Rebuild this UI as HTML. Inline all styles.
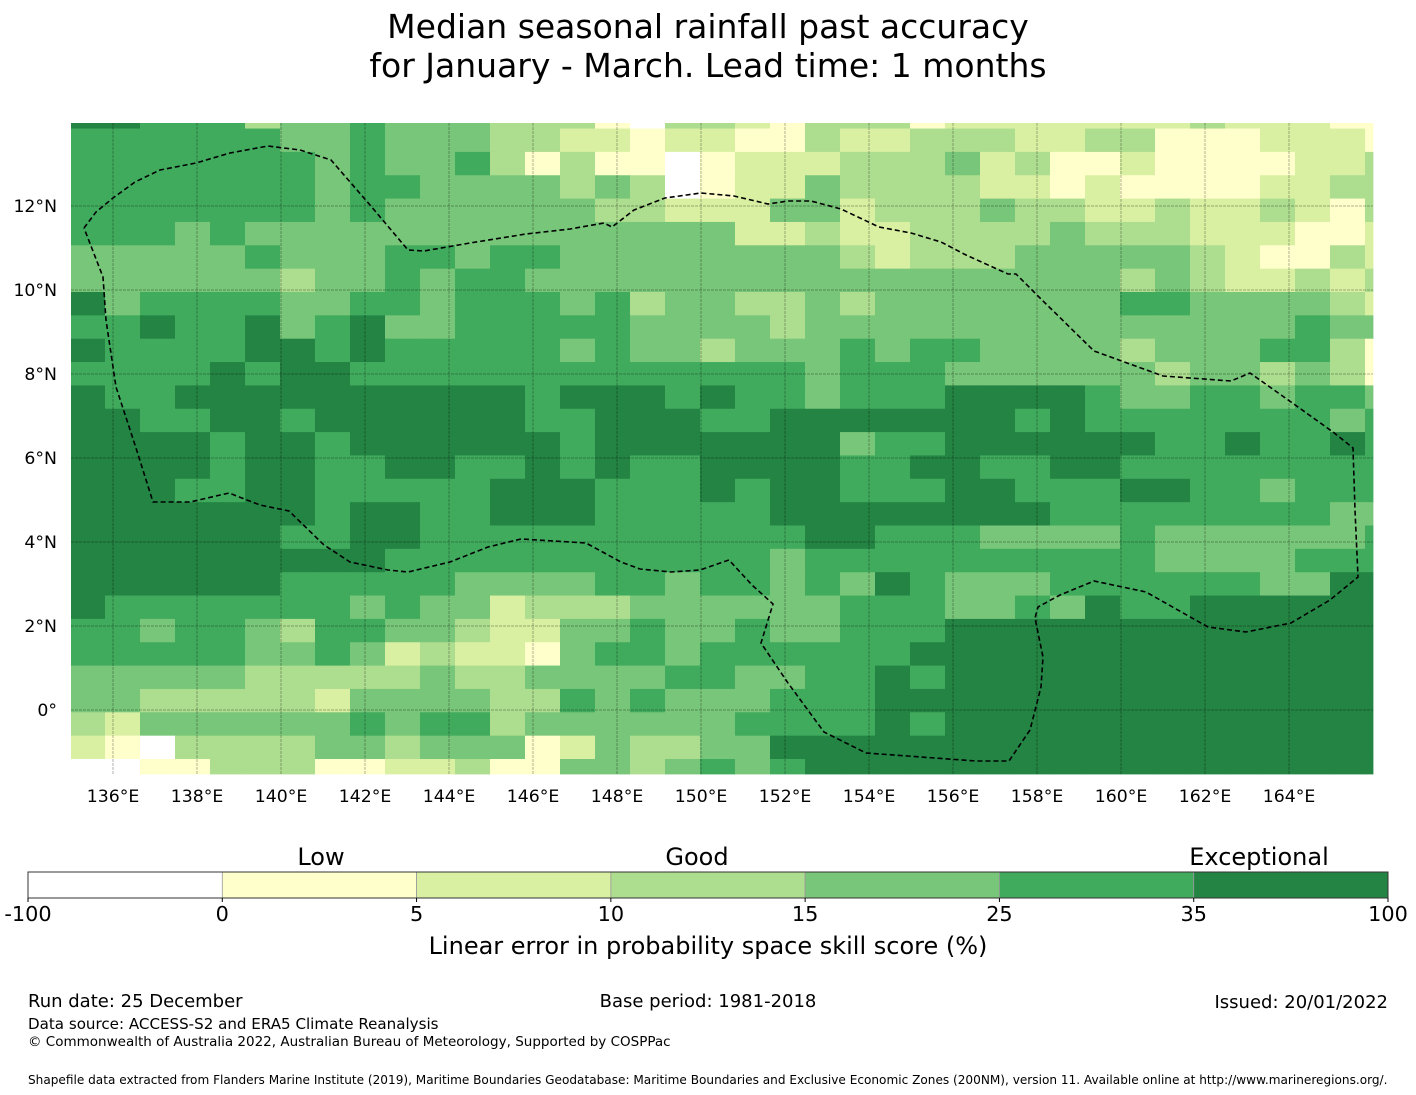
<!DOCTYPE html>
<html><head><meta charset="utf-8">
<style>
html,body{margin:0;padding:0;background:#fff;}
svg{display:block;font-family:"DejaVu Sans","Liberation Sans",sans-serif;}
</style></head>
<body>
<svg id="chart" width="1416" height="1095" viewBox="0 0 1416 1095" xmlns="http://www.w3.org/2000/svg">
  <text x="708" y="38" text-anchor="middle" font-size="33" fill="#000">Median seasonal rainfall past accuracy</text>
  <text x="708" y="77" text-anchor="middle" font-size="33" fill="#000">for January - March. Lead time: 1 months</text>
  <g id="map"></g>
  <g id="cbar"></g>
  <text x="28" y="1007" font-size="18">Run date: 25 December</text>
  <text x="708" y="1007" font-size="18" text-anchor="middle">Base period: 1981-2018</text>
  <text x="1388" y="1008" font-size="18" text-anchor="end">Issued: 20/01/2022</text>
  <text x="28" y="1029" font-size="15.1">Data source: ACCESS-S2 and ERA5 Climate Reanalysis</text>
  <text x="28" y="1046" font-size="13.5">© Commonwealth of Australia 2022, Australian Bureau of Meteorology, Supported by COSPPac</text>
  <text x="28" y="1084" font-size="12.1">Shapefile data extracted from Flanders Marine Institute (2019), Maritime Boundaries Geodatabase: Maritime Boundaries and Exclusive Economic Zones (200NM), version 11. Available online at http://www.marineregions.org/.</text>
</svg>
<script>
// ---- data ----
const levelColors = ["#ffffff","#ffffcc","#d9f0a3","#addd8e","#78c679","#41ab5d","#238443"];
const cbarTicks = ["-100","0","5","10","15","25","35","100"];
const cbarCategories = ["Low","Good","Exceptional"];
const lonTicks = [136,138,140,142,144,146,148,150,152,154,156,158,160,162,164];
const latTicks = [12,10,8,6,4,2,0];
// skill levels per grid row (top to bottom), one digit per grid column (0=<0,1=0-5,2=5-10,3=10-15,4=15-25,5=25-35,6=35-100)
const gridRows = [
"66555344544433310332133312222222322211",
"55555544544433221221132233322331112221",
"55555554544531311012223334231121111223",
"55555554554444343012243333221211112233",
"55555554544444433222442333433223223213",
"55545444444444444442232233334333222112",
"44444544455455444444443233344444321132",
"44444434454554444444444444444434322323",
"64555544554555453443343444444455444432",
"55655645644555554444344444444444444544",
"65555665655555454434445455444434445531",
"55556566555555555555545554444443443431",
"65566666666665666565545556666544554554",
"66556656666665566655666666656555555545",
"66665665666666566666664556666665565565",
"66665665566556565566665566556655555555",
"66655665555566655565665556655566554555",
"66666665665566655555666666665555555544",
"66666655665555555555566555444454444445",
"66666666655555555555455555555554444555",
"66666655555444455455454654445555554466",
"65555555454423334444445554454655666666",
"55455435544322445445445556666666666666",
"55555445423221455455555566666666666666",
"44444333334334444554455656666666666666",
"44333332444433545444555666666666666666",
"32444444545534444445555656666666666666",
"21033334434441243344666666666666666666",
"00113331122311443454566666666666666666"
];
// EEZ boundary trace (pixel space of the map)
const eezTrace = [[84,228],[96,212],[113,198],[135,182],[160,170],[196,163],[230,153],[268,146],[300,150],[331,160],[370,205],[408,250],[424,251],[470,243],[526,234],[570,229],[604,223],[612,227],[634,210],[665,198],[701,193],[734,196],[768,204],[788,201],[811,201],[841,209],[879,227],[911,233],[941,242],[966,255],[1008,274],[1016,274],[1040,298],[1094,351],[1163,376],[1231,381],[1250,373],[1291,402],[1333,432],[1353,448],[1355,510],[1358,577],[1330,600],[1291,623],[1246,632],[1208,627],[1146,592],[1094,581],[1060,595],[1038,607],[1035,618],[1043,657],[1041,687],[1030,730],[1009,761],[976,761],[866,753],[824,732],[788,683],[761,643],[773,604],[752,585],[729,560],[700,570],[671,572],[640,569],[621,562],[586,543],[554,541],[521,539],[488,547],[450,562],[408,572],[388,570],[350,562],[324,545],[289,511],[260,505],[229,493],[190,502],[153,502],[136,448],[116,387],[106,320],[103,277],[84,228]];

// ---- axes ----
const MAP = {x0:71, x1:1373, y0:123, y1:774};
const colX = c => 70 + 35*c;
const rowY = r => 105.2 + 23.35*r;
const lonX = lon => 113 + (lon-136)*42;
const latY = lat => 710 - lat*42;
const NS = "http://www.w3.org/2000/svg";
function mk(tag, attrs, parent){ const e=document.createElementNS(NS,tag); for(const k in attrs) e.setAttribute(k,attrs[k]); parent.appendChild(e); return e; }

const map = document.getElementById('map');
const cells = mk('g',{},map);


gridRows.forEach((row,r)=>{
  for(let c=0;c<row.length;c++){
    const x0=Math.max(MAP.x0,colX(c)), x1=Math.min(MAP.x1,colX(c+1));
    const y0=Math.max(MAP.y0,rowY(r)), y1=Math.min(MAP.y1,rowY(r+1));
    if(x1<=x0||y1<=y0) continue;
    const rect = mk('rect',{x:x0,y:y0,width:x1-x0+0.4,height:y1-y0+0.4,fill:levelColors[+row[c]]},cells);
    
    
  }
});
// gridlines
const grid = mk('g',{stroke:'rgba(0,0,0,0.3)','stroke-width':1,'stroke-dasharray':'3,1'},map);


lonTicks.forEach(l=>{ const ln=mk('line',{x1:lonX(l),x2:lonX(l),y1:MAP.y0,y2:MAP.y1},grid);
  
   });
latTicks.forEach(l=>{ const ln=mk('line',{x1:MAP.x0,x2:MAP.x1,y1:latY(l),y2:latY(l)},grid);
  
   });
// EEZ
const eez = mk('polyline',{points:eezTrace.map(p=>p.join(',')).join(' '),fill:'none',stroke:'#000','stroke-width':1.6,'stroke-dasharray':'5,3'},map);


// axis labels
lonTicks.forEach(l=>{ const t=mk('text',{x:lonX(l),y:802,'text-anchor':'middle','font-size':17.3},map); t.textContent=l+'°E';
  
   });
latTicks.forEach(l=>{ const t=mk('text',{x:57,y:latY(l)+6,'text-anchor':'end','font-size':17.3},map); t.textContent=l===0?'0°':l+'°N';
  
   });

// colorbar
const cb = document.getElementById('cbar');
const CB = {x0:28, x1:1388, y0:872, y1:898};
const segW = (CB.x1-CB.x0)/levelColors.length;
levelColors.forEach((col,i)=>{ const r=mk('rect',{x:CB.x0+i*segW,y:CB.y0,width:segW,height:CB.y1-CB.y0,fill:col,stroke:i? '#999':'none','stroke-width':0.8},cb);
  
   });
const cbo = mk('rect',{x:CB.x0,y:CB.y0,width:CB.x1-CB.x0,height:CB.y1-CB.y0,fill:'none',stroke:'#333','stroke-width':1},cb);


cbarTicks.forEach((lab,i)=>{ const x=CB.x0+i*segW;
  mk('line',{x1:x,x2:x,y1:CB.y1,y2:CB.y1+4,stroke:'#000'},cb);
  const t=mk('text',{x:x,y:921,'text-anchor':'middle','font-size':20.8},cb); t.textContent=lab;
  
   });
const catX=[321,697,1259];
cbarCategories.forEach((lab,i)=>{ const t=mk('text',{x:catX[i],y:865,'text-anchor':'middle','font-size':24},cb); t.textContent=lab;
  
   });
const ct = mk('text',{x:708,y:954,'text-anchor':'middle','font-size':24},cb);
ct.textContent='Linear error in probability space skill score (%)';


</script>
</body></html>
